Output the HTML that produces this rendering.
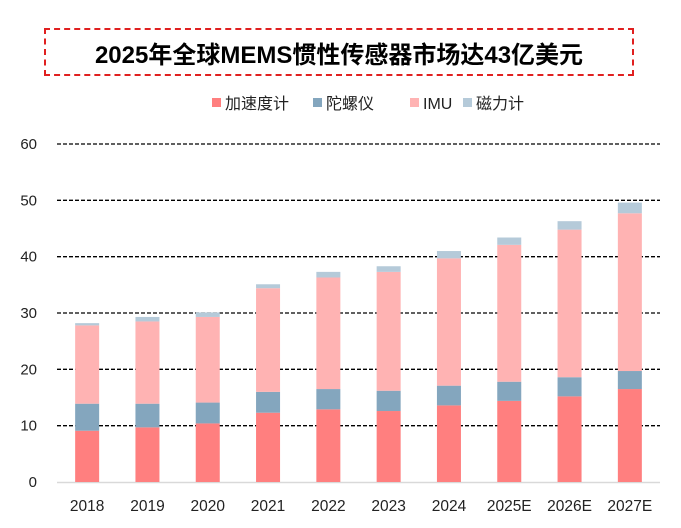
<!DOCTYPE html>
<html><head><meta charset="utf-8"><style>
body{margin:0;background:#fff;width:681px;height:528px;overflow:hidden;font-family:"Liberation Sans","Noto Sans CJK SC",sans-serif}
#title{position:absolute;left:44px;top:28px;width:586px;height:44px;border:2.5px dashed #e02020;box-sizing:content-box;display:flex;align-items:center;justify-content:center;font-weight:bold;font-size:24px;color:#000}
svg{position:absolute;left:0;top:0}
</style></head><body>
<div id="title">2025年全球MEMS惯性传感器市场达43亿美元</div>
<svg id="chart" width="681" height="528"></svg>
<script>
const categories=["2018","2019","2020","2021","2022","2023","2024","2025E","2026E","2027E"];
const accel=[9.1,9.7,10.4,12.3,12.9,12.6,13.6,14.4,15.2,16.5];
const gyro=[4.8,4.2,3.7,3.7,3.6,3.6,3.5,3.4,3.4,3.2];
const imu=[13.9,14.6,15.2,18.4,19.8,21.1,22.6,24.3,26.2,28.0];
const mag=[0.4,0.8,0.8,0.7,1.0,1.0,1.3,1.3,1.5,1.9];
const yTicks=[0,10,20,30,40,50,60];
const seriesNames=["加速度计","陀螺仪","IMU","磁力计"];
const colors=["#ff7f7f","#84a6be","#ffb3b3","#b5cad9"];
const NS="http://www.w3.org/2000/svg";
const svg=document.getElementById('chart');
const x0=57,x1=660,yBase=482,yTop=144,yMax=60;
const band=(x1-x0)/categories.length,bw=24;
const y=v=>yBase-(v/yMax)*(yBase-yTop);
const xc=i=>x0+band*(i+0.5);
function mk(t,a){const e=document.createElementNS(NS,t);for(const k in a)e.setAttribute(k,a[k]);svg.appendChild(e);return e;}
yTicks.forEach(t=>{
  if(t>0){const l=mk('line',{x1:x0,x2:x1,y1:y(t),y2:y(t),stroke:'#000','stroke-width':1.3,'stroke-dasharray':'4 2'});
  
  }
  const tx=mk('text',{x:37,y:y(t)+5,'text-anchor':'end','font-size':15,fill:'#222'});tx.textContent=t;
  
  
});
const ax=mk('line',{x1:x0,x2:x1,y1:yBase+0.5,y2:yBase+0.5,stroke:'#d9d9d9','stroke-width':1.5});


const data=[accel,gyro,imu,mag];
categories.forEach((c,i)=>{
  let acc=0;
  data.forEach((s,k)=>{
    const r=mk('rect',{x:xc(i)-bw/2,y:y(acc+s[i]),width:bw,height:y(acc)-y(acc+s[i]),fill:colors[k]});
    
    
    acc+=s[i];
  });
  const t=mk('text',{x:xc(i),y:511,'text-anchor':'middle','font-size':15.5,fill:'#222'});t.textContent=c;
  
  
});
const lx=[212,313,410,463];
seriesNames.forEach((n,k)=>{
  const r=mk('rect',{x:lx[k],y:98,width:9,height:9,fill:colors[k]});
  
  
  const t=mk('text',{x:lx[k]+13,y:109,'font-size':16,fill:'#222'});t.textContent=n;
  
  
});
</script>
</body></html>
